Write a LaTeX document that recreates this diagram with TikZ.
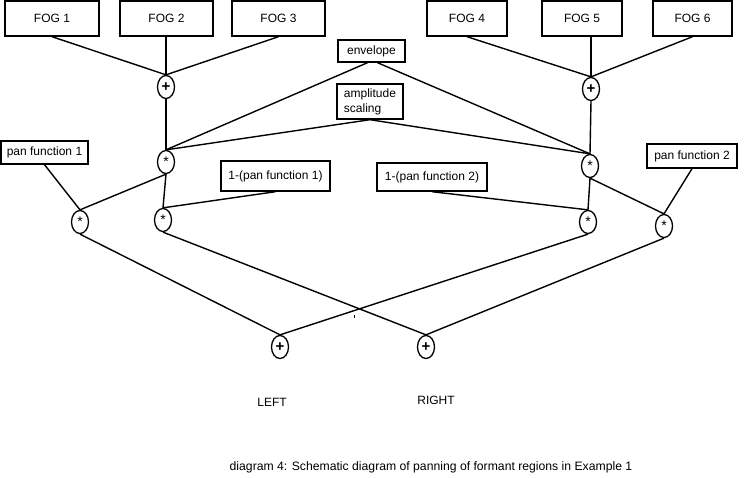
\documentclass[tikz,border=0pt]{standalone}
\usepackage{fontspec}
\setmainfont{Liberation Sans}
\usetikzlibrary{shapes.geometric}
\begin{document}
\begin{tikzpicture}[x=1pt,y=-1pt,
  box/.style={draw,line width=1.4pt,inner sep=0pt,font=\fontsize{12}{15}\selectfont},
  op/.style={draw,ellipse,line width=1.3pt,minimum width=17pt,minimum height=23pt,inner sep=0pt},
  plusop/.style={op,font=\fontsize{15}{15}\selectfont\bfseries},
  mulop/.style={op,font=\fontsize{14}{14}\selectfont},
  wire/.style={line width=1.4pt},
  lbl/.style={font=\fontsize{12}{14}\selectfont}]
\useasboundingbox (0,0) rectangle (748,478);
% boxes
\node[box,minimum width=94pt,minimum height=35pt] (f1) at (52,18.5) {FOG 1};
\node[box,minimum width=93pt,minimum height=35pt] (f2) at (166.5,18.5) {FOG 2};
\node[box,minimum width=93pt,minimum height=35pt] (f3) at (278.5,18.5) {FOG 3};
\node[box,minimum width=80pt,minimum height=35pt] (f4) at (467,18.5) {FOG 4};
\node[box,minimum width=80pt,minimum height=35pt] (f5) at (582,18.5) {FOG 5};
\node[box,minimum width=79pt,minimum height=35pt] (f6) at (692.5,18.5) {FOG 6};
\node[box,minimum width=67pt,minimum height=22pt] (env) at (371.5,51) {envelope};
\node[box,minimum width=66pt,minimum height=35pt,align=left] (amp) at (370,101.5) {amplitude\\scaling};
\node[box,minimum width=87pt,minimum height=23pt] (pan1) at (44.5,152.5) {pan function 1};
\node[box,minimum width=109pt,minimum height=30pt] (omp1) at (275.5,176) {1-(pan function 1)};
\node[box,minimum width=110pt,minimum height=28pt] (omp2) at (432,177) {1-(pan function 2)};
\node[box,minimum width=90pt,minimum height=24pt] (pan2) at (692,156) {pan function 2};
% operators
\node[plusop] (s1) at (166,87) {+};
\node[mulop] (m1) at (166,162) {*};
\node[mulop] (p1) at (80,222) {*};
\node[mulop] (q1) at (163,220) {*};
\node[plusop] (s2) at (591,89) {+};
\node[mulop] (m2) at (590,166) {*};
\node[mulop] (q2) at (588,222) {*};
\node[mulop] (p2) at (664,226) {*};
\node[plusop] (L) at (280,347) {+};
\node[plusop] (R) at (426,347) {+};
% wires
\draw[wire] (f1.south) -- (s1.north);
\draw[wire] (s1.north |- f2.south) -- (s1.north);
\draw[wire] (f3.south) -- (s1.north);
\draw[wire] (s1.south) -- (m1.north);
\draw[wire] ([xshift=-4pt]env.south) -- (m1.north);
\draw[wire] ([xshift=6pt]env.south) -- (m2.north);
\draw[wire] (amp.south) -- (m1.north);
\draw[wire] (amp.south) -- (m2.north);
\draw[wire] (m1.south) -- (q1.north);
\draw[wire] (m1.south) -- (p1.north);
\draw[wire] (pan1.south) -- (p1.north);
\draw[wire] (omp1.south) -- (q1.north);
\draw[wire] (f4.south) -- (s2.north);
\draw[wire] (s2.north |- f5.south) -- (s2.north);
\draw[wire] (f6.south) -- (s2.north);
\draw[wire] (s2.south) -- (m2.north);
\draw[wire] (m2.south) -- (q2.north);
\draw[wire] (m2.south) -- (p2.north);
\draw[wire] (pan2.south) -- (p2.north);
\draw[wire] (omp2.south) -- (q2.north);
\draw[wire] (p1.south) -- (L.north);
\draw[wire] (q1.south) -- (R.north);
\draw[wire] (q2.south) -- (L.north);
\draw[wire] (p2.south) -- (R.north);
\fill (353.5,315.5) rectangle (354.7,318.5);
% labels
\node[lbl] (left) at (272,402) {LEFT};
\node[lbl] (right) at (436,400) {RIGHT};
\node[font=\fontsize{12.2}{14}\selectfont] (cap) at (431,467) {diagram 4: Schematic diagram of panning of formant regions in Example 1};
\end{tikzpicture}
\end{document}
